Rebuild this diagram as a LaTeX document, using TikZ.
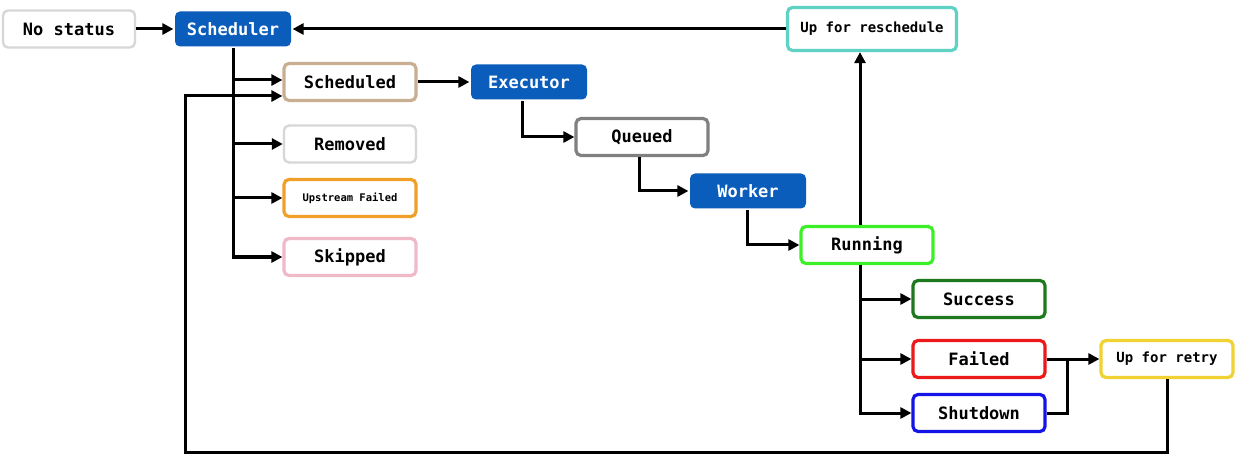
\documentclass[tikz,border=0pt]{standalone}
\usepackage{fontspec}
\setmonofont{DejaVu Sans Mono}
\usetikzlibrary{arrows.meta}
\definecolor{ablue}{RGB}{11,93,187}
\definecolor{lgray}{RGB}{215,215,215}
\definecolor{qgray}{RGB}{128,128,128}
\definecolor{tan}{RGB}{200,175,145}
\definecolor{orng}{RGB}{240,160,40}
\definecolor{pnk}{RGB}{240,185,200}
\definecolor{teal}{RGB}{95,210,195}
\definecolor{rgreen}{RGB}{60,240,40}
\definecolor{sgreen}{RGB}{30,120,30}
\definecolor{fred}{RGB}{235,25,25}
\definecolor{sblue}{RGB}{20,20,230}
\definecolor{yel}{RGB}{240,210,50}
\tikzset{
  box/.style={draw, rounded corners=5pt, line width=3.2pt, fill=white, text=black,
    minimum width=132pt, minimum height=37pt, inner sep=0pt,
    font=\fontsize{17}{20}\selectfont\ttfamily\bfseries},
  bluebox/.style={box, draw=none, fill=ablue, text=white, minimum width=116pt, minimum height=35pt},
  wire/.style={line width=3pt, black},
  conn/.style={wire, -{Triangle[length=11pt,width=11pt]}}
}
\begin{document}
\begin{tikzpicture}[x=1pt,y=-1pt]
\useasboundingbox (0,0) rectangle (1237,465);
\fill[white] (0,0) rectangle (1237,465);
% nodes
\node[box, draw=lgray, line width=2.4pt] (nostatus) at (69,29) {No status};
\node[bluebox] (sched) at (233,29) {Scheduler};
\node[box, draw=teal, minimum width=169pt, minimum height=43pt, font=\fontsize{14}{17}\selectfont\ttfamily\bfseries] (resched) at (872,29) {Up for reschedule};
\node[box, draw=tan] (scheduled) at (350,82) {Scheduled};
\node[bluebox] (executor) at (529,82) {Executor};
\node[box, draw=lgray, line width=2.4pt] (removed) at (350,144) {Removed};
\node[box, draw=qgray] (queued) at (642,137) {Queued};
\node[box, draw=orng, font=\fontsize{10.5}{13}\selectfont\ttfamily\bfseries] (upfailed) at (350,198) {Upstream Failed};
\node[bluebox] (worker) at (748,191) {Worker};
\node[box, draw=pnk] (skipped) at (350,257) {Skipped};
\node[box, draw=rgreen] (running) at (867,245) {Running};
\node[box, draw=sgreen] (success) at (979,299) {Success};
\node[box, draw=fred] (failed) at (979,359) {Failed};
\node[box, draw=yel, font=\fontsize{14}{17}\selectfont\ttfamily\bfseries] (retry) at (1167,359) {Up for retry};
\node[box, draw=sblue] (shutdown) at (979,413) {Shutdown};
\coordinate (join) at (1067,359);
\coordinate (bottomleft) at (185,452);
% connectors
\draw[conn] (nostatus.east) -- (sched.west);
\draw[conn] (resched.west) -- (sched.east);
\draw[conn] (sched.south) |- ([yshift=2pt]scheduled.west);
\draw[conn] (sched.south) |- (removed.west);
\draw[conn] (sched.south) |- (upfailed.west);
\draw[conn] (sched.south) |- (skipped.west);
\draw[conn] (scheduled.east) -- (executor.west);
\draw[conn] ([xshift=-7pt]executor.south) |- (queued.west);
\draw[conn] ([xshift=-3pt]queued.south) |- (worker.west);
\draw[conn] ([xshift=-1pt]worker.south) |- (running.west);
\draw[conn] ([xshift=-7pt]running.north) -- ([xshift=-7pt]running.north |- resched.south);
\draw[conn] ([xshift=-7pt]running.south) |- (success.west);
\draw[conn] ([xshift=-7pt]running.south) |- (failed.west);
\draw[conn] ([xshift=-7pt]running.south) |- (shutdown.west);
\draw[conn] (failed.east) -- (retry.west);
\draw[wire] (shutdown.east) -| (join);
\draw[conn] (retry.south) |- (bottomleft) |- ([yshift=-14pt]scheduled.west);
\end{tikzpicture}
\end{document}
